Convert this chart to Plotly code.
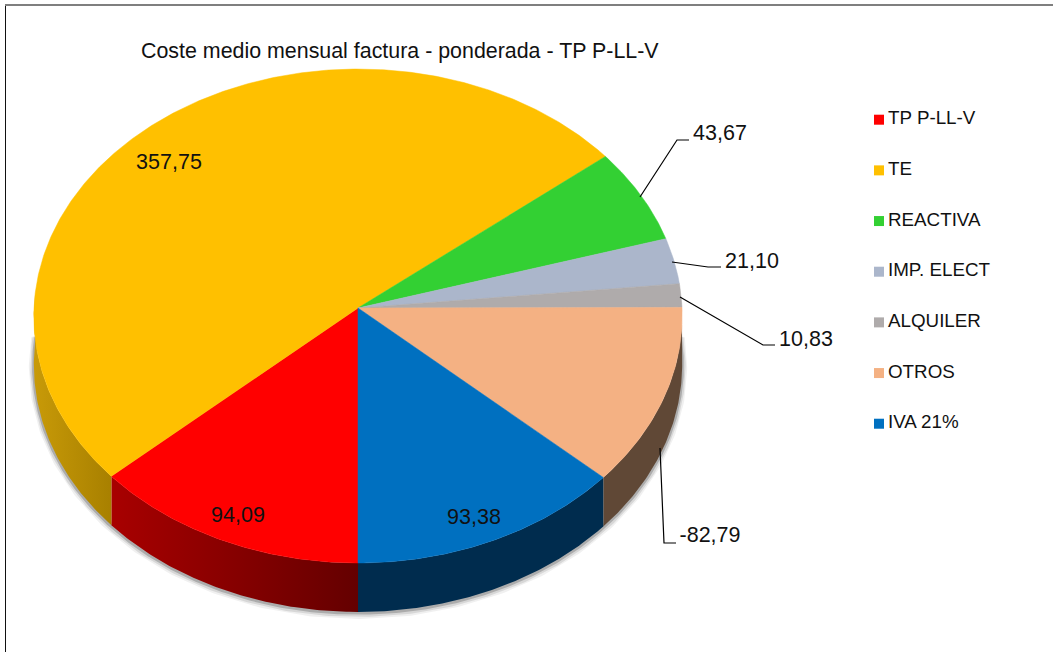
import math
import plotly.graph_objects as go

# ---- data ----
categories = ["TP P-LL-V", "TE", "REACTIVA", "IMP. ELECT", "ALQUILER", "OTROS", "IVA 21%"]
values = [94.09, 357.75, 43.67, 21.10, 10.83, 82.79, 93.38]
value_labels = ["94,09", "357,75", "43,67", "21,10", "10,83", "-82,79", "93,38"]
title_text = "Coste medio mensual factura - ponderada - TP P-LL-V"

# ---- styles ----
top_colors = ["#FF0000", "#FFC000", "#33D033", "#ABB6CB", "#AFABAB", "#F4B183", "#0070C0"]
side_left = ["#A80000", "#C89A08", None, None, None, "#604836", "#002C4E"]
side_right = ["#640000", "#A88000", None, None, None, "#604836", "#002C4E"]
FONT = "Liberation Sans"
TEXT = "#111111"

# ---- geometry (pixel space of the page) ----
CX, CY, RX, RY, PERSP, DEPTH = 358, 308, 324, 246.7, 0.0324, 49
FIRST_ANGLE = 180.0
label_pos = [(238, 517), (169, 164), (720, 135), (752, 263), (806, 341), (710, 537), (474, 519)]
leaders = {
    2: [(640, 197), (677, 140), (689, 140)],
    3: [(672, 262), (708, 267), (721, 267)],
    4: [(680, 297), (763, 345), (775, 345)],
    5: [(660, 448), (664, 543), (676, 543)],
}
LEG_X, LEG_Y0, LEG_DY = 879, 119.7, 50.67


def rim(theta_deg, drop=0.0):
    t = math.radians(theta_deg)
    w = 1 + PERSP * math.cos(t)
    return CX + RX * math.sin(t) / w, CY - RY * math.cos(t) / w + drop


def arc(a, b, drop=0.0, step=0.5):
    n = max(2, int(abs(b - a) / step))
    return [rim(a + (b - a) * i / n, drop) for i in range(n + 1)]


total = sum(abs(v) for v in values)
spans = []
ang = FIRST_ANGLE
for v in values:
    sweep = abs(v) / total * 360
    spans.append((ang, ang + sweep))
    ang += sweep

fig = go.Figure()

# soft shadow beneath the extruded edge
for width, alpha, off in [(10, 0.06, 2), (7, 0.10, 1.5), (3.5, 0.20, 1)]:
    pts = arc(85, 275, DEPTH + off)
    fig.add_trace(go.Scatter(x=[p[0] for p in pts], y=[p[1] for p in pts], mode="lines",
                             line=dict(color=f"rgba(0,0,0,{alpha})", width=width),
                             hoverinfo="skip"))

# side walls (only the front half of the pie is visible)
for i, (a, b) in enumerate(spans):
    a0 = a if a < 360 else a - 360
    b0 = b if a < 360 else b - 360
    lo, hi = max(a0, 88), min(b0, 273)
    if a0 >= 360 or hi <= lo or side_left[i] is None:
        continue
    pts = arc(lo, hi) + arc(hi, lo, DEPTH)
    pts.append(pts[0])
    fig.add_trace(go.Scatter(
        x=[p[0] for p in pts], y=[p[1] for p in pts], mode="lines", fill="toself",
        line=dict(width=0), hoverinfo="skip", fillcolor=side_right[i],
        fillgradient=dict(type="horizontal",
                          colorscale=[[0, side_left[i]], [1, side_right[i]]]),
    ))

# top faces
for i, (a, b) in enumerate(spans):
    pts = [(CX, CY)] + arc(a, b) + [(CX, CY)]
    fig.add_trace(go.Scatter(
        x=[p[0] for p in pts], y=[p[1] for p in pts], mode="lines", fill="toself",
        fillcolor=top_colors[i], line=dict(color=top_colors[i], width=0.5),
        name=categories[i], hoverinfo="name",
    ))

# leader lines
for i, pts in leaders.items():
    fig.add_trace(go.Scatter(x=[p[0] for p in pts], y=[p[1] for p in pts], mode="lines",
                             line=dict(color="#000000", width=1.2), hoverinfo="skip"))

# value labels
fig.add_trace(go.Scatter(x=[p[0] for p in label_pos], y=[p[1] for p in label_pos], mode="text",
                         text=value_labels, textposition="middle center",
                         textfont=dict(family=FONT, size=21.5, color=TEXT), hoverinfo="skip"))

# legend
leg_y = [LEG_Y0 + LEG_DY * i for i in range(len(categories))]
fig.add_trace(go.Scatter(x=[LEG_X] * len(categories), y=leg_y, mode="markers",
                         marker=dict(symbol="square", size=10, color=top_colors, line=dict(width=0)),
                         hoverinfo="skip"))
fig.add_trace(go.Scatter(x=[LEG_X + 9] * len(categories), y=leg_y, mode="text", text=categories,
                         textposition="middle right",
                         textfont=dict(family=FONT, size=18.8, color=TEXT), hoverinfo="skip"))

fig.update_layout(
    width=1053, height=652, margin=dict(l=0, r=0, t=0, b=0),
    paper_bgcolor="white", plot_bgcolor="white", showlegend=False,
    xaxis=dict(range=[0, 1053], visible=False, fixedrange=True),
    yaxis=dict(range=[652, 0], visible=False, fixedrange=True),
    annotations=[dict(x=400, y=51, xref="x", yref="y", text=title_text, showarrow=False,
                      font=dict(family=FONT, size=21.4, color=TEXT))],
    shapes=[
        dict(type="line", xref="x", yref="y", x0=5.5, x1=5.5, y0=4, y1=652,
             line=dict(color="#111111", width=1)),
        dict(type="line", xref="x", yref="y", x0=5, x1=1053, y0=5, y1=5,
             line=dict(color="#7F7F7F", width=2)),
    ],
)

fig.write_html("out.html", config=dict(displayModeBar=False),
               post_script="document.body.style.margin='0';document.body.style.overflow='hidden';")
